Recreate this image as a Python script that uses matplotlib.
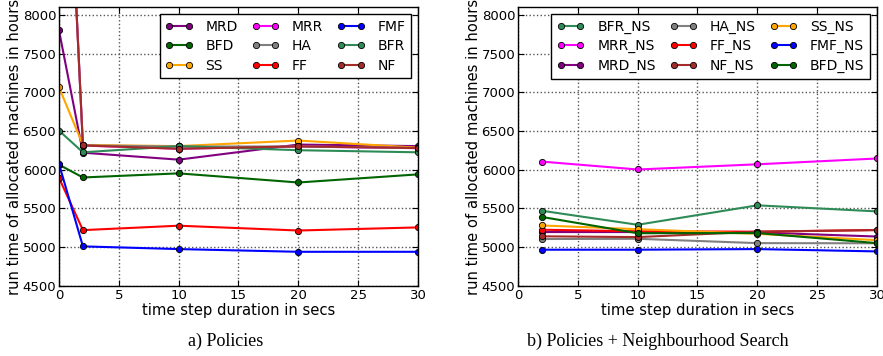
import matplotlib
matplotlib.use("Agg")
import matplotlib.pyplot as plt

# ---- data: left panel (Policies) ----
x_a = [0, 2, 10, 20, 30]
MRD = [7800, 6220, 6130, 6325, 6305]
BFD = [6065, 5900, 5953, 5835, 5940]
SS = [7065, 6320, 6305, 6377, 6285]
MRR = [12800, 6312, 6272, 6300, 6278]
HA = [12800, 6314, 6300, 6300, 6280]
FF = [5895, 5220, 5277, 5215, 5255]
FMF = [6075, 5010, 4975, 4940, 4940]
BFR = [6505, 6225, 6305, 6252, 6225]
NF = [12800, 6314, 6270, 6302, 6280]

# ---- data: right panel (Policies + Neighbourhood Search) ----
x_b = [2, 10, 20, 30]
BFR_NS = [5470, 5289, 5540, 5462]
MRR_NS = [6105, 6003, 6070, 6145]
MRD_NS = [5195, 5195, 5190, 5137]
HA_NS = [5105, 5108, 5052, 5050]
FF_NS = [5225, 5205, 5200, 5222]
NF_NS = [5140, 5130, 5200, 5220]
SS_NS = [5280, 5232, 5172, 5090]
FMF_NS = [4967, 4967, 4975, 4945]
BFD_NS = [5390, 5180, 5182, 5052]

series_a = [("MRD", MRD, "#800080"), ("BFD", BFD, "#006400"), ("SS", SS, "#FFA500"),
            ("MRR", MRR, "#FF00FF"), ("HA", HA, "#808080"), ("FF", FF, "#FF0000"),
            ("FMF", FMF, "#0000FF"), ("BFR", BFR, "#2E8B57"), ("NF", NF, "#A52A2A")]
series_b = [("BFR_NS", BFR_NS, "#2E8B57"), ("MRR_NS", MRR_NS, "#FF00FF"),
            ("MRD_NS", MRD_NS, "#800080"), ("HA_NS", HA_NS, "#808080"),
            ("FF_NS", FF_NS, "#FF0000"), ("NF_NS", NF_NS, "#A52A2A"),
            ("SS_NS", SS_NS, "#FFA500"), ("FMF_NS", FMF_NS, "#0000FF"),
            ("BFD_NS", BFD_NS, "#006400")]

plt.rcParams['font.family'] = ['DejaVu Sans']

fig = plt.figure(figsize=(8.83, 3.56), dpi=100)
ax1 = fig.add_axes([0.0668, 0.197, 0.4066, 0.783])
ax2 = fig.add_axes([0.5866, 0.197, 0.4066, 0.783])

def style(ax):
    ax.set_xlim(0, 30)
    ax.set_ylim(4500, 8100)
    ax.set_xticks([0, 5, 10, 15, 20, 25, 30])
    ax.set_yticks([4500, 5000, 5500, 6000, 6500, 7000, 7500, 8000])
    ax.grid(True, linestyle=':', color='#555555', linewidth=1.0)
    ax.tick_params(direction='in', labelsize=9.5, length=4, top=True, right=True, pad=2)
    for s in ax.spines.values():
        s.set_linewidth(1.0)
        s.set_color('black')
    ax.set_xlabel("time step duration in secs", fontsize=10.6, labelpad=1)
    ax.set_ylabel("run time of allocated machines in hours", fontsize=10.6, labelpad=0)

for name, vals, c in series_a:
    ax1.plot(x_a, vals, '-o', color=c, label=name, lw=1.5, ms=4.5,
             markeredgecolor='black', markeredgewidth=0.6)
for name, vals, c in series_b:
    ax2.plot(x_b, vals, '-o', color=c, label=name, lw=1.5, ms=4.5,
             markeredgecolor='black', markeredgewidth=0.6)

style(ax1)
style(ax2)

leg_kw = dict(loc='upper right', ncol=3, fontsize=10, fancybox=False, framealpha=1,
              edgecolor='black', borderaxespad=0.5, handlelength=2.0, numpoints=2,
              columnspacing=1.0, labelspacing=0.4, handletextpad=0.9, borderpad=0.4)
l1 = ax1.legend(**leg_kw)
l2 = ax2.legend(**leg_kw)
for l in (l1, l2):
    l.get_frame().set_linewidth(1.0)

fig.text(0.255, 0.04, "a) Policies", ha='center', va='center',
         fontsize=13, family='Liberation Serif')
fig.text(0.745, 0.04, "b) Policies + Neighbourhood Search", ha='center', va='center',
         fontsize=13, family='Liberation Serif')

fig.savefig("out.png", dpi=100)
